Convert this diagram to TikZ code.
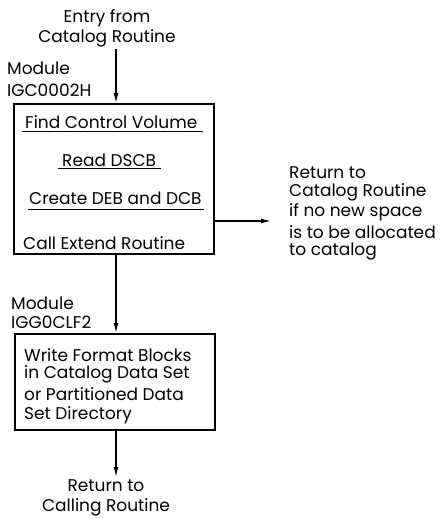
\documentclass[tikz,border=0pt]{standalone}
\usepackage{fontspec}
\setmainfont{Poppins}
\usetikzlibrary{arrows.meta}
\begin{document}
\begin{tikzpicture}[x=1pt,y=-1pt,
  every node/.style={font=\fontsize{17}{20}\selectfont, inner sep=0pt},
  box/.style={draw, line width=1.6pt, minimum width=200pt, anchor=north west},
  txt/.style={anchor=west},
  ctr/.style={align=center},
  arr/.style={line width=1.3pt, -{Latex[length=10pt,width=5pt]}},
  uline/.style={line width=1pt}]
\useasboundingbox (0,0) rectangle (445,518);

% entry
\node[ctr] (entry) at (107,28) {Entry from\\Catalog Routine};
\coordinate (e) at (116,49);

% first module
\node[txt] (m1) at (7,68) {Module};
\node[txt] (m1id) at (7,90) {IGC0002H};
\node[box, minimum height=150pt] (b1) at (13,103) {};
\node[txt] (f1) at (25,122) {Find Control Volume};
\node[txt] (f2) at (62,160) {Read DSCB};
\node[txt] (f3) at (29,198) {Create DEB and DCB};
\node[txt] (f4) at (23,243) {Call Extend Routine};
\draw[uline] (22,132) -- (203,132);
\draw[uline] (58,169) -- (161,169);
\draw[uline] (28,210) -- (204,210);

\draw[arr] (e) -- (e |- b1.north);

% early return
\coordinate (r) at (271,221);
\draw[arr] (b1.east |- r) -- (r);
\node[txt] (r1) at (289,173) {Return to};
\node[txt] (r2) at (289,192) {Catalog Routine};
\node[txt] (r3) at (289,212) {if no new space};
\node[txt] (r4) at (289,232) {is to be allocated};
\node[txt] (r5) at (289,252) {to catalog};

% second module
\node[txt] (m2) at (11,303) {Module};
\node[txt] (m2id) at (11,322) {IGG0CLF2};
\node[box, minimum height=96pt] (b2) at (14,333) {};
\node[txt] (g1) at (24,355) {Write Format Blocks};
\node[txt] (g2) at (24,374) {in Catalog Data Set};
\node[txt] (g3) at (24,394) {or Partitioned Data};
\node[txt] (g4) at (24,415) {Set Directory};

\draw[arr] (b1.south -| e) -- (b2.north -| e);

% final return
\coordinate (x) at (116,477);
\draw[arr] (b2.south -| x) -- (x);
\node[ctr] (ret2) at (106,498) {Return to\\Calling Routine};
\end{tikzpicture}
\end{document}
